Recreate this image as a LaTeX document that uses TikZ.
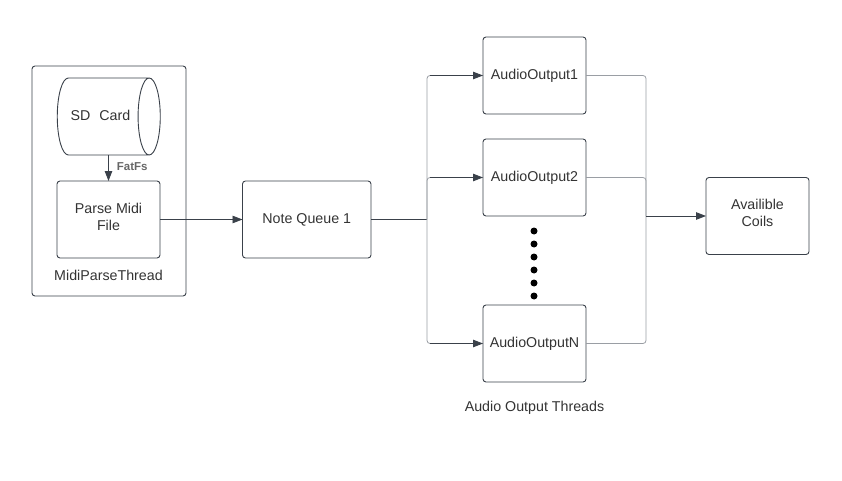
\documentclass[tikz,border=0pt]{standalone}
\usepackage{fontspec}
\setmainfont{Liberation Sans}
\usetikzlibrary{positioning, shapes.geometric, arrows.meta}

\definecolor{boxline}{HTML}{3A414A}
\definecolor{branchline}{HTML}{9A9EA4}
\definecolor{labeltext}{HTML}{333333}

\begin{document}
\begin{tikzpicture}[x=1pt, y=1pt, >={Triangle[length=10pt, width=7.5pt]},
  main node/.style={rectangle, draw=boxline, line width=.9pt, rounded corners=3pt, align=center, outer sep=0pt, inner sep=0pt, text=labeltext, font=\fontsize{14.25}{17}\selectfont, minimum width=103pt, minimum height=77pt},
  two lines/.style={text depth=6pt},
  plain label/.style={text=labeltext, inner sep=0pt, font=\fontsize{14.25}{17}\selectfont},
  branch/.style={draw=branchline, line width=.8pt, rounded corners=3pt},
  flow/.style={->, draw=boxline, line width=.8pt}]

  \useasboundingbox (0,0) rectangle (842,-481);

  % Define nodes
  \node[main node, minimum width=154pt, minimum height=230pt] (midiframe) at (109,-181) {};
  \node[main node, two lines] (parse) at (108.5,-219.5) {Parse Midi\\File};
  \node[cylinder, draw=boxline, line width=.9pt, aspect=1.8, shape border rotate=0, outer sep=0pt, inner sep=0pt, text=labeltext, font=\fontsize{14.25}{17}\selectfont, minimum width=77pt, minimum height=103pt] (card) [above=26pt of parse, xshift=-5.5pt] {\hspace*{-5pt}\raisebox{2pt}{SD\hspace{9pt}Card}};
  \node[plain label] (midilabel) [below=12pt of parse.south] {MidiParseThread};
  \node[main node, minimum width=128.5pt] (queue) [right=82.5pt of parse] {Note Queue 1};
  \node[main node] (audio2) at (534.5,-177.5) {AudioOutput2};
  \node[main node] (audio1) [above=25pt of audio2] {AudioOutput1};
  \node[main node] (audioN) [below=89pt of audio2] {AudioOutputN};
  \node[plain label] (audiolabel) [below=19pt of audioN.south] {Audio Output Threads};
  \node[main node, two lines] (coils) at (757.5,-216) {Availible\\Coils};

  % Dots between the outputs
  \foreach \i/\ypos in {1/231, 2/244, 3/257, 4/270, 5/283, 6/296} {
    \node[circle, fill=black, inner sep=0pt, minimum size=7pt] (dot\i) at (534,-\ypos) {};
  }

  % Junctions
  \coordinate (split) at (427,-219.5);
  \coordinate (merge) at (646,-216);

  % Define edges
  \draw[flow] (parse.north |- card.south) -- (parse.north) node[pos=.45, right=8pt, text=black!60, inner sep=0pt, font=\fontsize{11.5}{13}\selectfont\bfseries] (fatfs) {FatFs};
  \draw[flow] (parse) -- (queue);
  \draw[draw=boxline, line width=.8pt] (queue) -- (split);
  \path[branch] (split) |- (audio1);
  \path[branch] (split) |- (audio2);
  \path[branch] (split) |- (audioN);
  \draw[flow] (split |- audio1) ++(3,0) -- (audio1);
  \draw[flow] (split |- audio2) ++(3,0) -- (audio2);
  \draw[flow] (split |- audioN) ++(3,0) -- (audioN);
  \path[branch] (audio1) -| (merge);
  \path[branch] (audio2) -| (merge);
  \path[branch] (audioN) -| (merge);
  \draw[flow, line width=.9pt] (merge) -- (coils);
\end{tikzpicture}
\end{document}
